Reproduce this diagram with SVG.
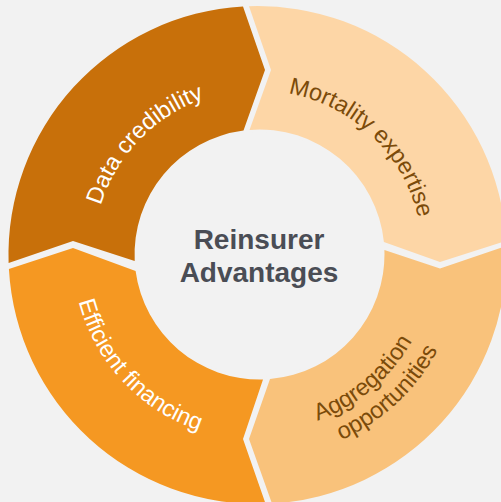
<svg xmlns="http://www.w3.org/2000/svg" width="501" height="502" viewBox="0 0 501 502">
  <defs>
    <style>
      .seg-dc { fill: #C8700A; }
      .seg-me { fill: #FDD6A6; }
      .seg-ao { fill: #F9C27B; }
      .seg-ef { fill: #F59822; }
      .lbl { font-family: "Liberation Sans", Arial, sans-serif; font-size: 23.5px; }
      .lbl-light { fill: #FFFFFF; }
      .lbl-dark { fill: #7B4B0A; }
      .title { font-family: "Liberation Sans", Arial, sans-serif; font-size: 28px; font-weight: bold; fill: #4A4D55; text-anchor: middle; }
    </style>
    <!-- baselines for the curved labels, all centred on the ring -->
    <path id="arc-dc" d="M125.0,351.5 A165,165 0 0 1 350.8,117.7"/>
    <path id="arc-me" d="M161.6,122.2 A164,164 0 0 1 394.8,345.7"/>
    <path id="arc-ef" d="M110.0,142.6 A186,186 0 0 0 359.8,410.5"/>
    <path id="arc-ao1" d="M145.6,389.6 A176,176 0 0 0 410.8,166.2"/>
    <path id="arc-ao2" d="M136.3,416.6 A203,203 0 0 0 428.8,143.9"/>
  </defs>

  <rect width="501" height="502" fill="#F2F2F2"/>

  <g id="data-credibility">
    <path class="seg-dc" d="M8.6,263 A249,249 0 0 1 243,6.4 L265,70 L243.5,130.5 A125,125 0 0 0 134.7,261 L73,241 Z"/>
    <text class="lbl lbl-light"><textPath href="#arc-dc" startOffset="50%" text-anchor="middle">Data credibility</textPath></text>
  </g>

  <g id="mortality-expertise">
    <path class="seg-me" d="M249,6.15 A249,249 0 0 1 506.1,241 L440,262 L383.9,242 A125,125 0 0 0 249.5,129.9 L271,70 Z"/>
    <text class="lbl lbl-dark"><textPath href="#arc-me" startOffset="50%" text-anchor="middle">Mortality expertise</textPath></text>
  </g>

  <g id="aggregation-opportunities">
    <path class="seg-ao" d="M506.3,246 A249,249 0 0 1 272,503.6 L249,439 L270,379.1 A125,125 0 0 0 384.4,250 L440,268.5 Z"/>
    <text class="lbl lbl-dark"><textPath href="#arc-ao1" startOffset="50%" text-anchor="middle">Aggregation</textPath></text>
    <text class="lbl lbl-dark"><textPath href="#arc-ao2" startOffset="50%" text-anchor="middle">opportunities</textPath></text>
  </g>

  <g id="efficient-financing">
    <path class="seg-ef" d="M265.6,503.8 A249,249 0 0 1 8.9,269 L73,248 L135.6,271 A125,125 0 0 0 263,379.45 L243,439 Z"/>
    <text class="lbl lbl-light"><textPath href="#arc-ef" startOffset="50%" text-anchor="middle">Efficient financing</textPath></text>
  </g>

  <g id="reinsurer-advantages">
    <circle cx="259.5" cy="254.5" r="122" fill="#F2F2F2"/>
    <text class="title" x="259" y="249">Reinsurer</text>
    <text class="title" x="259" y="282">Advantages</text>
  </g>
</svg>
